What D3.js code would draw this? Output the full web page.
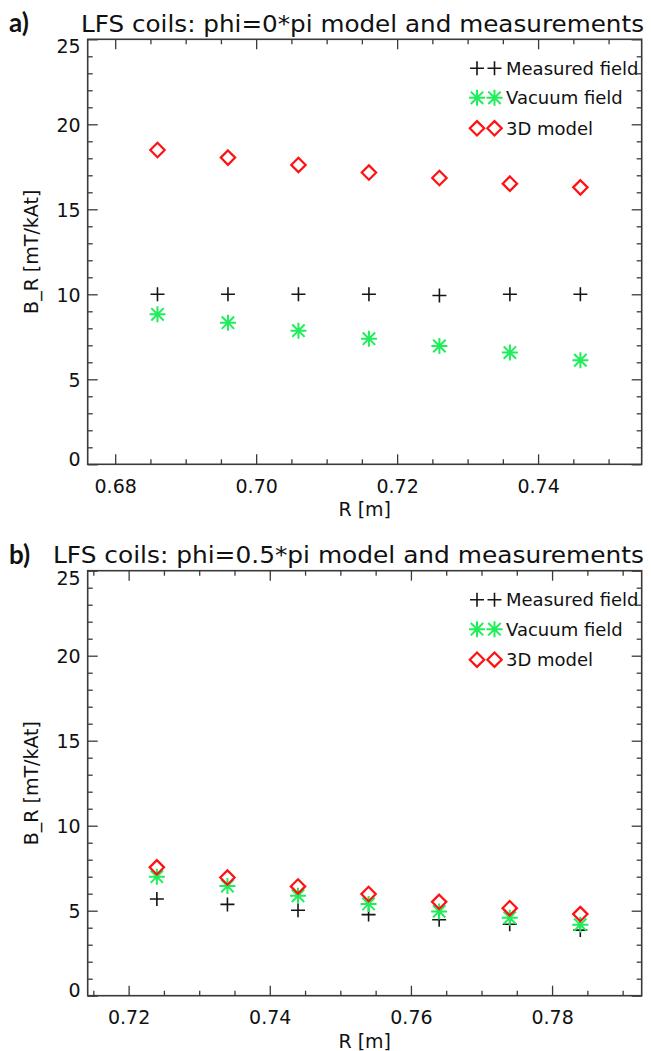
<!DOCTYPE html>
<html>
<head>
<meta charset="utf-8">
<script src="https://cdn.jsdelivr.net/npm/d3@7"></script>
<style>
  html, body { margin: 0; padding: 0; background: #fff; }
  svg { display: block; }
  text { font-family: "DejaVu Sans", sans-serif; fill: #111; }
</style>
</head>
<body>
<script>
// Radial position of the probe points [m]
const rA = [0.686, 0.696, 0.706, 0.716, 0.726, 0.736, 0.746];
const rB = [0.724, 0.734, 0.744, 0.754, 0.764, 0.774, 0.784];

// B_R per coil current [mT/kAt], phi = 0*pi
const measuredA = [10.0, 10.0, 10.0, 10.0, 9.93, 10.0, 10.0];
const vacuumA   = [8.82, 8.33, 7.86, 7.39, 6.96, 6.57, 6.12];
const modelA    = [18.49, 18.04, 17.61, 17.16, 16.84, 16.51, 16.29];

// B_R per coil current [mT/kAt], phi = 0.5*pi
const measuredB = [5.69, 5.37, 5.03, 4.77, 4.47, 4.20, 3.86];
const vacuumB   = [7.00, 6.45, 5.88, 5.40, 4.96, 4.58, 4.18];
const modelB    = [7.55, 6.95, 6.43, 5.98, 5.52, 5.15, 4.80];

// Axis ranges and ticks
const xRangeA = [0.6761, 0.7547];
const xRangeB = [0.7142, 0.7927];
const xTicksA = [0.68, 0.70, 0.72, 0.74];
const xTicksB = [0.72, 0.74, 0.76, 0.78];
const yRange  = [0, 25];
const yTicks  = [0, 5, 10, 15, 20, 25];

const seriesNames = ["Measured field", "Vacuum field", "3D model"];
const titles = [
  "LFS coils: phi=0*pi model and measurements",
  "LFS coils: phi=0.5*pi model and measurements"
];
const panelLabels = ["a)", "b)"];

const W = 651, H = 1051;
const GREEN = "#1fee5a", RED = "#ff1111", INK = "#151515", FRAME = "#3a3a3a";

const svg = d3.select("body").append("svg")
  .attr("width", W).attr("height", H)
  .attr("viewBox", `0 0 ${W} ${H}`);

// Marker shapes (IDL-style psym 1, 2, 4)
function drawPlus(g, cx, cy) {
  const s = 7;
  g.append("path")
    .attr("d", `M${cx - s},${cy}H${cx + s}M${cx},${cy - s}V${cy + s}`)
    .attr("stroke", INK).attr("stroke-width", 1.6).attr("fill", "none");
}
function drawStar(g, cx, cy) {
  const s = 8, d = 6.2;
  g.append("path")
    .attr("d", `M${cx - s},${cy}H${cx + s}M${cx},${cy - s}V${cy + s}` +
               `M${cx - d},${cy - d}L${cx + d},${cy + d}M${cx - d},${cy + d}L${cx + d},${cy - d}`)
    .attr("stroke", GREEN).attr("stroke-width", 2).attr("fill", "none");
}
function drawDiamond(g, cx, cy) {
  const s = 7.2;
  g.append("path")
    .attr("d", `M${cx},${cy - s}L${cx + s},${cy}L${cx},${cy + s}L${cx - s},${cy}Z`)
    .attr("stroke", RED).attr("stroke-width", 2.2).attr("fill", "none");
}
const markers = [drawPlus, drawStar, drawDiamond];

function panel(cfg) {
  const { left, right, top, bottom, xRange, xTicks, series, r, title, label, titleX, titleLen } = cfg;

  const x = d3.scaleLinear().domain(xRange).range([left, right]);
  const y = d3.scaleLinear().domain(yRange).range([bottom, top]);

  const g = svg.append("g");

  // Panel tag and title
  g.append("text")
    .attr("x", 9).attr("y", top - 7)
    .style("font-family", "Lato, 'Open Sans', sans-serif")
    .style("font-weight", 700).style("font-size", "26px")
    .text(label);
  g.append("text")
    .attr("x", titleX).attr("y", top - 7.5)
    .attr("textLength", titleLen).attr("lengthAdjust", "spacingAndGlyphs")
    .style("font-size", "23px")
    .text(title);

  // Minor tick values
  const [x0, x1] = xRange;
  const xMinor = d3.range(Math.ceil(x0 / 0.005) * 0.005, x1, 0.005)
    .filter(v => !xTicks.some(t => Math.abs(t - v) < 1e-6));
  const yMinor = d3.range(0, 26, 1).filter(v => v % 5 !== 0);

  const styleAxis = sel => {
    sel.select(".domain").remove();
    sel.selectAll("line").attr("stroke", FRAME).attr("stroke-width", 1.3);
  };

  // Bottom axis with labels
  const bx = g.append("g").attr("transform", `translate(0,${bottom})`)
    .call(d3.axisBottom(x).tickValues(xTicks).tickSize(-10).tickPadding(15)
      .tickFormat(d3.format(".2f")));
  bx.call(styleAxis);
  bx.selectAll("text").style("font-size", "19px").style("font-family", "DejaVu Sans, sans-serif").attr("fill", INK);
  g.append("g").attr("transform", `translate(0,${bottom})`)
    .call(d3.axisBottom(x).tickValues(xMinor).tickSize(-5).tickFormat(""))
    .call(styleAxis);

  // Top axis (ticks only)
  g.append("g").attr("transform", `translate(0,${top})`)
    .call(d3.axisTop(x).tickValues(xTicks).tickSize(-10).tickFormat(""))
    .call(styleAxis);
  g.append("g").attr("transform", `translate(0,${top})`)
    .call(d3.axisTop(x).tickValues(xMinor).tickSize(-5).tickFormat(""))
    .call(styleAxis);

  // Left axis with labels
  const ly = g.append("g").attr("transform", `translate(${left},0)`)
    .call(d3.axisLeft(y).tickValues(yTicks).tickSize(-10).tickPadding(7));
  ly.call(styleAxis);
  ly.selectAll("text").style("font-size", "19px").style("font-family", "DejaVu Sans, sans-serif").attr("fill", INK)
    .attr("dy", d => d === 25 ? "0.7em" : d === 0 ? "0.05em" : "0.36em");
  g.append("g").attr("transform", `translate(${left},0)`)
    .call(d3.axisLeft(y).tickValues(yMinor).tickSize(-5).tickFormat(""))
    .call(styleAxis);

  // Right axis (ticks only)
  g.append("g").attr("transform", `translate(${right},0)`)
    .call(d3.axisRight(y).tickValues(yTicks).tickSize(-10).tickFormat(""))
    .call(styleAxis);
  g.append("g").attr("transform", `translate(${right},0)`)
    .call(d3.axisRight(y).tickValues(yMinor).tickSize(-5).tickFormat(""))
    .call(styleAxis);

  // Plot frame
  g.append("rect")
    .attr("x", left).attr("y", top)
    .attr("width", right - left).attr("height", bottom - top)
    .attr("fill", "none").attr("stroke", FRAME).attr("stroke-width", 1.6);

  // Axis titles
  g.append("text")
    .attr("x", (left + right) / 2).attr("y", bottom + 52)
    .attr("text-anchor", "middle").style("font-size", "19px")
    .text("R [m]");
  g.append("text")
    .attr("transform", `translate(${38},${(top + bottom) / 2}) rotate(-90)`)
    .attr("text-anchor", "middle").style("font-size", "19px")
    .text("B_R [mT/kAt]");

  // Data markers
  const marks = g.append("g");
  series.forEach((vals, si) => {
    vals.forEach((v, i) => markers[si](marks, x(r[i]), y(v)));
  });

  // Legend
  const leg = g.append("g");
  const legRows = [top + 29, top + 58.5, top + 89];
  seriesNames.forEach((name, si) => {
    const cy = legRows[si];
    markers[si](leg, 477, cy);
    markers[si](leg, 494.5, cy);
    leg.append("text")
      .attr("x", 506).attr("y", cy).attr("dy", "0.36em")
      .style("font-size", "18px")
      .text(name);
  });
}

panel({
  left: 87.7, right: 641.7, top: 39.3, bottom: 464.3,
  xRange: xRangeA, xTicks: xTicksA, r: rA,
  series: [measuredA, vacuumA, modelA],
  title: titles[0], label: panelLabels[0], titleX: 81, titleLen: 563
});

panel({
  left: 87.7, right: 641.7, top: 570.7, bottom: 995.7,
  xRange: xRangeB, xTicks: xTicksB, r: rB,
  series: [measuredB, vacuumB, modelB],
  title: titles[1], label: panelLabels[1], titleX: 53, titleLen: 591
});
</script>
</body>
</html>
